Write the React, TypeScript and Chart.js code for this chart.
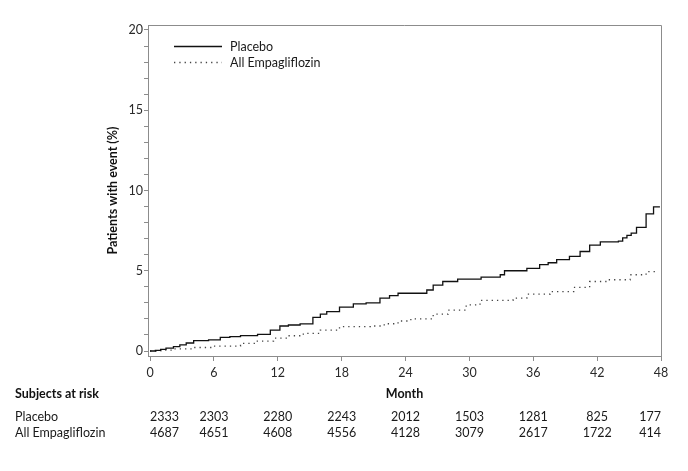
import React, { useEffect, useRef } from 'react';
import { Chart, registerables } from 'chart.js';

Chart.register(...registerables);

const FONT = 'Lato, "Open Sans", sans-serif';
const FS = 12.5;

// Tick / at-risk data
const monthTicks = [0, 6, 12, 18, 24, 30, 36, 42, 48];
const yTicks = [0, 1, 2, 3, 4, 5, 6, 7, 8, 9, 10, 11, 12, 13, 14, 15, 16, 17, 18, 19, 20];
const placeboAtRisk = [2333, 2303, 2280, 2243, 2012, 1503, 1281, 825, 177];
const empaAtRisk = [4687, 4651, 4608, 4556, 4128, 3079, 2617, 1722, 414];

// Kaplan-Meier style cumulative incidence curves (month, %)
const placeboMonths = [0, 0.5, 1, 1.5, 2.2, 2.8, 3.4, 4.1, 5.5, 6.6, 7.5, 8.5, 10.1, 11.3, 12.2, 13.0, 14.1, 15.3, 16.0, 16.6, 17.8, 19.1, 20.3, 21.6, 22.5, 23.3, 26.0, 26.6, 27.5, 28.9, 31.1, 32.9, 33.3, 35.4, 36.6, 37.4, 38.2, 39.4, 40.4, 41.3, 42.3, 44.0, 44.4, 44.8, 45.2, 45.7, 46.6, 47.3, 47.9];
const placeboValues = [0, 0.04, 0.1, 0.18, 0.27, 0.38, 0.5, 0.65, 0.7, 0.85, 0.9, 0.96, 1.04, 1.3, 1.56, 1.62, 1.69, 2.1, 2.3, 2.46, 2.73, 2.94, 3.0, 3.3, 3.45, 3.6, 3.8, 4.1, 4.33, 4.48, 4.6, 4.75, 5.0, 5.15, 5.38, 5.5, 5.69, 5.9, 6.2, 6.6, 6.8, 6.85, 7.05, 7.2, 7.35, 7.7, 8.55, 8.98, 8.98];

const empaMonths = [0, 1, 2.2, 4, 5.9, 8.5, 10, 11.6, 13, 14.4, 16, 17.8, 20.7, 22, 23.3, 24.5, 26.6, 28, 29.7, 31, 34.1, 35.4, 37.6, 39.8, 41.3, 42.9, 45.1, 46.6, 47.8];
const empaValues = [0, 0.05, 0.13, 0.22, 0.31, 0.48, 0.62, 0.8, 0.95, 1.1, 1.3, 1.52, 1.56, 1.7, 1.87, 2.0, 2.3, 2.55, 2.87, 3.15, 3.3, 3.54, 3.7, 3.97, 4.33, 4.44, 4.75, 4.95, 4.95];

const seriesLabels = ['Placebo', 'All Empagliflozin'];
const atRiskTitle = 'Subjects at risk';
const xTitle = 'Month';
const yTitle = 'Patients with event (%)';

const extras = {
  id: 'kmExtras',
  afterDraw(chart: any) {
    const { ctx, chartArea: ca, scales } = chart;
    const xs = scales.x;
    ctx.save();
    // frame top & right
    ctx.strokeStyle = '#8c8c8c';
    ctx.lineWidth = 1;
    ctx.beginPath();
    ctx.moveTo(ca.left, ca.top + 0.5);
    ctx.lineTo(ca.right + 0.5, ca.top + 0.5);
    ctx.lineTo(ca.right + 0.5, ca.bottom);
    ctx.stroke();

    // legend
    const dsets = chart.data.datasets;
    dsets.forEach((ds: any, i: number) => {
      const y = ca.top + 21 + i * 16;
      ctx.save();
      ctx.strokeStyle = ds.borderColor;
      ctx.lineWidth = ds.borderWidth;
      ctx.setLineDash(ds.borderDash || []);
      ctx.beginPath();
      ctx.moveTo(ca.left + 26, y + 0.5);
      ctx.lineTo(ca.left + 74, y + 0.5);
      ctx.stroke();
      ctx.restore();
      ctx.fillStyle = '#1a1a1a';
      ctx.font = `${FS}px ${FONT}`;
      ctx.textAlign = 'left';
      ctx.textBaseline = 'middle';
      ctx.fillText(ds.label, ca.left + 82, y + 1);
    });

    // y title
    ctx.save();
    ctx.translate(113, (ca.top + ca.bottom) / 2);
    ctx.rotate(-Math.PI / 2);
    ctx.font = `bold ${FS}px ${FONT}`;
    ctx.fillStyle = '#111';
    ctx.textAlign = 'center';
    ctx.textBaseline = 'middle';
    ctx.fillText(yTitle, 0, 0);
    ctx.restore();

    // x title
    ctx.font = `bold ${FS}px ${FONT}`;
    ctx.fillStyle = '#111';
    ctx.textAlign = 'center';
    ctx.textBaseline = 'middle';
    ctx.fillText(xTitle, (ca.left + ca.right) / 2, 394);

    // at risk table
    ctx.textAlign = 'left';
    ctx.fillText(atRiskTitle, 15, 394);
    ctx.font = `${FS}px ${FONT}`;
    ctx.fillStyle = '#1a1a1a';
    const rows = [placeboAtRisk, empaAtRisk];
    rows.forEach((row, r) => {
      const y = 417 + r * 16;
      ctx.textAlign = 'left';
      ctx.fillText(seriesLabels[r], 15, y);
      row.forEach((n, i) => {
        const x = xs.getPixelForValue(monthTicks[i]);
        if (i === 0) { ctx.textAlign = 'left'; ctx.fillText(String(n), x, y); }
        else if (i === row.length - 1) { ctx.textAlign = 'right'; ctx.fillText(String(n), x, y); }
        else { ctx.textAlign = 'center'; ctx.fillText(String(n), x, y); }
      });
    });
    ctx.restore();
  },
};

export default function App() {
  const ref = useRef<HTMLCanvasElement>(null);
  useEffect(() => {
    if (!ref.current) return;
    const chart = new Chart(ref.current, {
      type: 'line',
      data: {
        datasets: [
          {
            label: seriesLabels[0],
            data: placeboMonths.map((m, i) => ({ x: m, y: placeboValues[i] })),
            borderColor: '#111',
            borderWidth: 1.3,
            stepped: true,
            pointRadius: 0,
            fill: false,
          },
          {
            label: seriesLabels[1],
            data: empaMonths.map((m, i) => ({ x: m, y: empaValues[i] })),
            borderColor: '#444',
            borderWidth: 1.3,
            borderDash: [1.3, 4],
            stepped: true,
            pointRadius: 0,
            fill: false,
          },
        ],
      },
      options: {
        animation: false,
        responsive: true,
        maintainAspectRatio: false,
        layout: { padding: { left: 0, top: 25, right: 27, bottom: 0 } },
        plugins: { legend: { display: false }, tooltip: { enabled: false } },
        scales: {
          x: {
            type: 'linear',
            min: -0.19,
            max: 48,
            afterFit: (s: any) => { s.height = 115; },
            afterBuildTicks: (s: any) => { s.ticks = monthTicks.map((v) => ({ value: v })); },
            grid: { drawOnChartArea: false, drawTicks: true, tickLength: 5, tickColor: '#8c8c8c' },
            border: { color: '#8c8c8c' },
            ticks: { color: '#2a2a2a', font: { family: FONT, size: FS }, padding: 4, autoSkip: false, maxRotation: 0 },
          },
          y: {
            type: 'linear',
            min: -0.31,
            max: 20.31,
            afterFit: (s: any) => { s.width = 148; },
            afterBuildTicks: (s: any) => { s.ticks = yTicks.map((v) => ({ value: v })); },
            grid: { drawOnChartArea: false, drawTicks: true, tickLength: 4, tickColor: '#8c8c8c' },
            border: { color: '#8c8c8c' },
            ticks: {
              color: '#2a2a2a',
              font: { family: FONT, size: FS },
              padding: 1,
              autoSkip: false,
              callback: (v: any) => (Number(v) % 5 === 0 ? String(v) : ''),
            },
          },
        },
      },
      plugins: [extras],
    });
    return () => chart.destroy();
  }, []);
  return (
    <div style={{ position: 'fixed', left: 0, top: 0, width: 688, height: 471, background: '#fff' }}>
      <canvas ref={ref} />
    </div>
  );
}
